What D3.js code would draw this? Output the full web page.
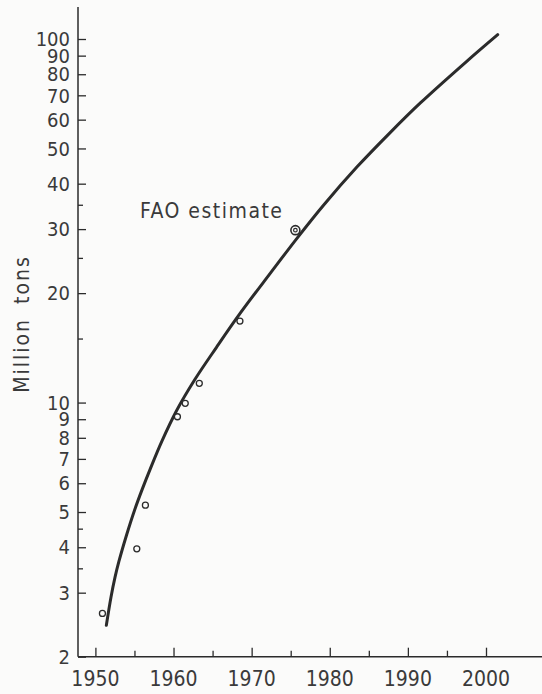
<!DOCTYPE html>
<html>
<head>
<meta charset="utf-8">
<script src="https://cdn.jsdelivr.net/npm/d3@7"></script>
<style>
  html, body { margin: 0; padding: 0; background: #fbfbfa; }
  svg { display: block; }
  text { font-family: "DejaVu Sans Condensed", "DejaVu Sans", sans-serif; font-stretch: condensed; fill: #3a3a3a; }
</style>
</head>
<body>
<svg id="chart" width="542" height="694"></svg>
<script>
// ---- data ----
const curveYears  = [1951.4, 1952.0, 1952.5, 1953.0, 1954.0, 1955.0, 1956.0, 1957.0, 1958.5, 1960.4, 1962.75, 1965.5, 1968.45, 1972.4, 1975.8, 1979.2, 1983.5, 1987.7, 1991.6, 1997.5, 2001.5];
const curveValues = [2.44, 2.92, 3.30, 3.65, 4.33, 5.05, 5.78, 6.55, 7.82, 9.51, 11.59, 14.19, 17.5, 22.7, 28.3, 34.9, 44.5, 55.2, 66.7, 86.7, 102.8];
const obsYears  = [1950.9, 1955.3, 1956.4, 1960.5, 1961.5, 1963.3, 1968.5];
const obsValues = [2.63, 3.96, 5.22, 9.14, 9.95, 11.3, 16.76];
const faoYear = [1975.6];
const faoValue = [29.8];
const faoLabel = "FAO estimate";
const xMajorTicks = [1950, 1960, 1970, 1980, 1990, 2000];
const xMinorTicks = [1955, 1965, 1975, 1985, 1995];
const yMajorTicks = [2, 3, 4, 5, 6, 7, 8, 9, 10, 20, 30, 40, 50, 60, 70, 80, 90, 100];
const yMinorTicks = [3.5, 4.5, 15, 25, 35];
const yTitle = "Million tons";

// ---- layout ----
const ink = "#2b2b2b";
const bg = "#fbfbfa";
const svg = d3.select("#chart");
const x = d3.scaleLinear().domain([1950, 2000]).range([95.4, 486]);
const y = d3.scaleLog().domain([2, 100]).range([656.7, 39]);
const axisX0 = 78, axisYTop = 7, axisXRight = 542;

// X axis
const gx = svg.append("g").attr("transform", `translate(0,${y(2)})`);
gx.append("line").attr("x1", axisX0).attr("x2", axisXRight).attr("y1", 0).attr("y2", 0)
  .attr("stroke", ink).attr("stroke-width", 1.5);
{
  const sub = gx.append("g").call(d3.axisTop(x).tickValues(xMajorTicks).tickSize(9).tickFormat(""));
  sub.select(".domain").remove();
  sub.selectAll("line").attr("stroke", ink).attr("stroke-width", 1.3);
  const sub2 = gx.append("g").call(d3.axisTop(x).tickValues(xMinorTicks).tickSize(6).tickFormat(""));
  sub2.select(".domain").remove();
  sub2.selectAll("line").attr("stroke", ink).attr("stroke-width", 1.3);
}
gx.selectAll("text.xl").data(xMajorTicks).join("text").attr("class", "xl")
  .attr("x", d => x(d)).attr("y", 29).attr("text-anchor", "middle")
  .attr("font-size", 21).text(d => d);

// Y axis
const gy = svg.append("g").attr("transform", `translate(${axisX0},0)`);
gy.append("line").attr("x1", 0).attr("x2", 0).attr("y1", axisYTop).attr("y2", y(2))
  .attr("stroke", ink).attr("stroke-width", 1.5);
{
  const sub = gy.append("g").call(d3.axisRight(y).tickValues(yMajorTicks).tickSize(8).tickFormat(""));
  sub.select(".domain").remove();
  sub.selectAll("line").attr("stroke", ink).attr("stroke-width", 1.3);
  const sub2 = gy.append("g").call(d3.axisRight(y).tickValues(yMinorTicks).tickSize(5).tickFormat(""));
  sub2.select(".domain").remove();
  sub2.selectAll("line").attr("stroke", ink).attr("stroke-width", 1.3);
}
gy.selectAll("text.yl").data(yMajorTicks).join("text").attr("class", "yl")
  .attr("x", -8).attr("y", d => y(d)).attr("dy", "0.36em").attr("text-anchor", "end")
  .attr("font-size", 20).text(d => d);

// Y title
svg.append("text").attr("transform", "translate(29,324) rotate(-90)")
  .attr("text-anchor", "middle").attr("font-size", 21).attr("letter-spacing", 2)
  .attr("word-spacing", 6).text(yTitle);

// Curve
const pts = curveYears.map((yr, i) => [yr, curveValues[i]]);
const line = d3.line().x(d => x(d[0])).y(d => y(d[1])).curve(d3.curveCatmullRom.alpha(0.5));
svg.append("path").attr("d", line(pts)).attr("fill", "none")
  .attr("stroke", ink).attr("stroke-width", 3).attr("stroke-linecap", "round");

// Observations
svg.selectAll("circle.obs").data(obsYears).join("circle").attr("class", "obs")
  .attr("cx", d => x(d)).attr("cy", (d, i) => y(obsValues[i])).attr("r", 3)
  .attr("fill", bg).attr("stroke", ink).attr("stroke-width", 1.3);

// FAO estimate
svg.selectAll("circle.fao").data(faoYear).join("circle").attr("class", "fao")
  .attr("cx", d => x(d)).attr("cy", (d, i) => y(faoValue[i])).attr("r", 4.5)
  .attr("fill", bg).attr("stroke", ink).attr("stroke-width", 1.6);
svg.selectAll("circle.fao2").data(faoYear).join("circle").attr("class", "fao2")
  .attr("cx", d => x(d)).attr("cy", (d, i) => y(faoValue[i])).attr("r", 1.8)
  .attr("fill", "none").attr("stroke", ink).attr("stroke-width", 1.2);
svg.append("text").attr("x", 140).attr("y", 218).attr("font-size", 21)
  .attr("letter-spacing", 1.5).text(faoLabel);
</script>
</body>
</html>
